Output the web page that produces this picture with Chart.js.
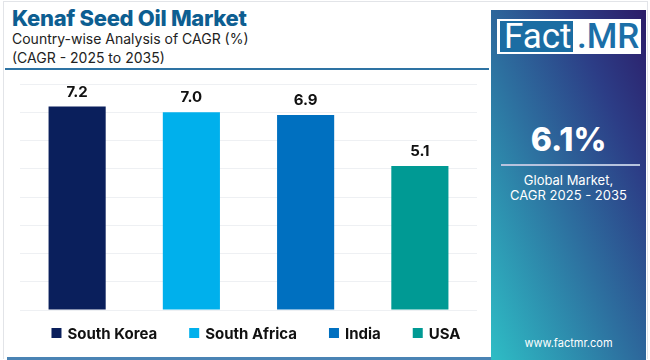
<!DOCTYPE html>
<html>
<head>
<meta charset="utf-8">
<script src="https://cdn.jsdelivr.net/npm/chart.js@4/dist/chart.umd.min.js"></script>
<style>
  body { margin: 0; width: 650px; height: 360px; background: #fff; font-family: "Inter", "Roboto", sans-serif; overflow: hidden; position: relative; }
  .frame { position: absolute; left: 3px; top: 1px; width: 645px; height: 358px; border: 1px solid #e2e4e8; border-bottom: none; box-sizing: border-box; }
  .title { position: absolute; left: 12px; top: 5px; font-size: 22px; font-weight: 800; color: #0d5e91; letter-spacing: -0.3px; }
  .sub { position: absolute; left: 12px; font-size: 14px; color: #222; }
  .rule { position: absolute; left: 5px; top: 68px; width: 484px; height: 2px; background: #2e73a3; }
  .bottom { position: absolute; left: 7px; top: 357px; width: 484px; height: 3px; background: #4a83b4; }
  #wrap { position: absolute; left: 0; top: 72px; width: 490px; height: 282px; }
  .panel { position: absolute; left: 491px; top: 10px; width: 155px; height: 350px;
    background: linear-gradient(to top right, #2ebdc5 0%, #2d6f9f 45%, #2c3d86 75%, #2c1c68 100%); color: #fff; text-align: center; }
  .logo { position: absolute; left: 6px; top: 9px; width: 144px; height: 35px; background: #fff; }
  .logo .f { position: absolute; left: 3px; top: 2px; width: 73px; height: 31px; background: #1b6da3; color: #fff; font-size: 35px; line-height: 31px; font-family: "Roboto", sans-serif; text-align: left; padding-left: 4px; box-sizing: border-box; }
  .logo .m { position: absolute; left: 80px; top: 2px; color: #1b6fa8; font-size: 35px; line-height: 31px; font-weight: 500; font-family: "Roboto", sans-serif; }
  .big { position: absolute; left: 0; width: 155px; top: 110px; font-size: 32px; font-weight: 800; }
  .hr { position: absolute; left: 10px; top: 154px; width: 139px; height: 2px; background: #b7c3de; }
  .gl { position: absolute; left: 0; width: 155px; top: 163px; font-size: 13px; line-height: 15px; }
  .www { position: absolute; left: 0; width: 155px; top: 326px; font-size: 11px; }
</style>
</head>
<body>
<div class="frame"></div>
<div class="title">Kenaf Seed Oil Market</div>
<div class="sub" style="top:30px">Country-wise Analysis of CAGR (%)</div>
<div class="sub" style="top:49px">(CAGR - 2025 to 2035)</div>
<div class="rule"></div>
<div id="wrap"><canvas id="chartId"></canvas></div>
<div class="bottom"></div>
<div class="panel">
  <div class="logo"><div class="f">Fact</div><div class="m">.MR</div></div>
  <div class="big">6.1%</div>
  <div class="hr"></div>
  <div class="gl">Global Market,<br>CAGR 2025 - 2035</div>
  <div class="www">www.factmr.com</div>
</div>
<script>
const countries = ["South Korea", "South Africa", "India", "USA"];
const cagr = [7.2, 7.0, 6.9, 5.1];
const colors = ["#0a1f5c", "#00b0ec", "#0070c0", "#009a94"];

const valueLabels = {
    id: "valueLabels",
    afterDatasetsDraw(chart) {
        const c = chart.ctx;
        const meta = chart.getDatasetMeta(0);
        c.save();
        c.font = "bold 15px Inter, Roboto, sans-serif";
        c.fillStyle = "#111";
        c.textAlign = "center";
        c.textBaseline = "bottom";
        meta.data.forEach(function(bar, i) {
            c.fillText(cagr[i].toFixed(1), bar.x, bar.y - 7);
        });
        c.restore();
    }
};

// legend drawn by hand so the gap between items can be wide
const bottomLegend = {
    id: "bottomLegend",
    afterDraw(chart) {
        const c = chart.ctx;
        c.save();
        c.font = "bold 15px Inter, Roboto, sans-serif";
        c.textBaseline = "middle";
        var box = 10, gapText = 6, gapItem = 32;
        var widths = countries.map(function(t) { return box + gapText + c.measureText(t).width; });
        var total = widths.reduce(function(a, b) { return a + b; }, 0) + gapItem * (countries.length - 1);
        var x = 256 - total / 2;
        var y = chart.chartArea.bottom + 23;
        countries.forEach(function(t, i) {
            c.fillStyle = colors[i];
            c.fillRect(x, y - box / 2, box, box);
            c.fillStyle = "#111";
            c.fillText(t, x + box + gapText, y + 1);
            x += widths[i] + gapItem;
        });
        c.restore();
    }
};

var chrt = document.getElementById("chartId").getContext("2d");
new Chart(chrt, {
    type: 'bar',
    data: {
        labels: countries,
        datasets: [{
            label: "CAGR",
            data: cagr,
            backgroundColor: colors,
            categoryPercentage: 1,
            barPercentage: 0.5
        }]
    },
    options: {
        responsive: true,
        maintainAspectRatio: false,
        animation: false,
        layout: { padding: { left: 20, right: 13, top: 12, bottom: 36 } },
        scales: {
            x: { grid: { display: false }, ticks: { display: false }, border: { display: false } },
            y: {
                min: 0, max: 8,
                ticks: { display: false, stepSize: 1 },
                grid: { color: "#eef0f3", drawTicks: false },
                border: { display: false }
            }
        },
        plugins: {
            tooltip: { enabled: false },
            legend: { display: false }
        }
    },
    plugins: [valueLabels, bottomLegend]
});
</script>
</body>
</html>
